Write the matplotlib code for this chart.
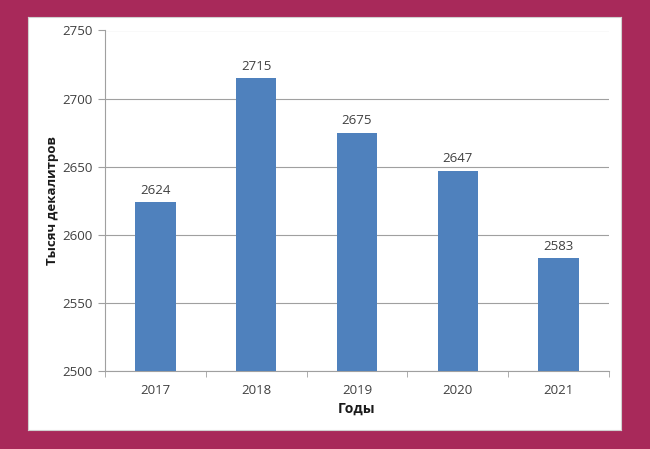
import matplotlib
matplotlib.use("Agg")
import matplotlib.pyplot as plt

years = ["2017", "2018", "2019", "2020", "2021"]
values = [2624, 2715, 2675, 2647, 2583]
yticks = [2500, 2550, 2600, 2650, 2700, 2750]

plt.rcParams['font.family'] = ['Open Sans', 'DejaVu Sans']
W, H = 650, 449
fig = plt.figure(figsize=(W/100, H/100), dpi=100)
fig.patch.set_facecolor('#A8295A')

bg = fig.add_axes([28/W, 1-430/H, (621-28)/W, (430-17)/H], zorder=-5)
bg.set_facecolor('white')
bg.set_xticks([]); bg.set_yticks([])
for s in bg.spines.values():
    s.set_color('#d0d0d0'); s.set_linewidth(0.8)

ax = fig.add_axes([105/W, 1-371/H, (609-105)/W, (371-30.5)/H], zorder=1)
ax.set_facecolor('none')
x = list(range(len(years)))
ax.bar(x, values, width=0.4, color='#4F81BD', zorder=3)
for xi, v in zip(x, values):
    ax.text(xi, v + 4, str(v), ha='center', va='bottom', fontsize=9.5, color='#404040')

ax.set_ylim(2500, 2750)
ax.set_xlim(-0.5, len(years) - 0.5)
ax.set_yticks(yticks)
ax.set_yticklabels([str(t) for t in yticks], fontsize=9.5, color='#404040')
ax.set_xticks(x)
ax.set_xticklabels(years, fontsize=9.5, color='#404040')
ax.set_xticks([i - 0.5 for i in range(len(years) + 1)], minor=True)
ax.tick_params(axis='x', which='major', length=0, pad=9)
ax.tick_params(axis='x', which='minor', length=4, color='#A0A0A0', direction='out')
ax.tick_params(axis='y', length=5, color='#A0A0A0', direction='out', pad=4)
ax.grid(axis='y', color='#A0A0A0', lw=0.8, zorder=0)
for s in ['top', 'right']:
    ax.spines[s].set_visible(False)
for s in ['left', 'bottom']:
    ax.spines[s].set_color('#A0A0A0')
    ax.spines[s].set_linewidth(0.8)

ax.set_xlabel('Годы', fontsize=10, fontweight='bold', color='#1a1a1a', labelpad=4)
ax.set_ylabel('Тысяч декалитров', fontsize=9.5, fontweight='bold', color='#1a1a1a', labelpad=2)

fig.savefig('out.png', dpi=100, facecolor=fig.get_facecolor())
